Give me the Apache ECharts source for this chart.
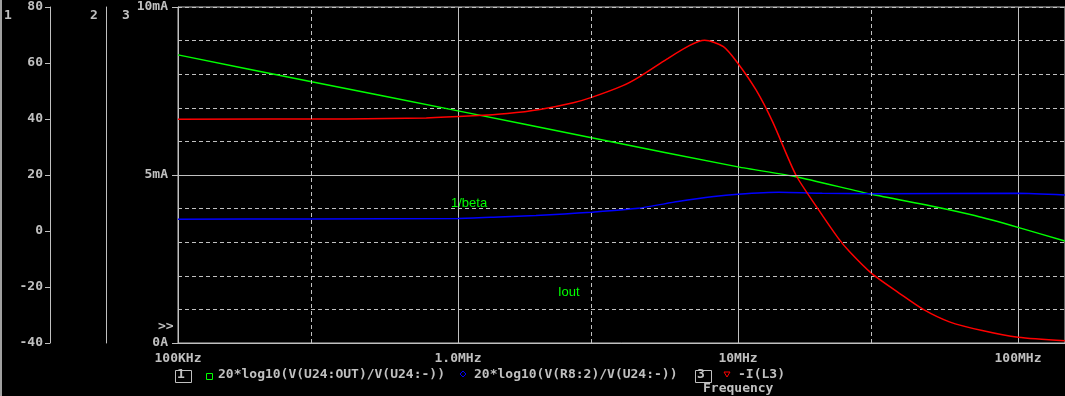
<!DOCTYPE html>
<html><head><meta charset="utf-8">
<script src="https://cdn.jsdelivr.net/npm/echarts@6/dist/echarts.min.js"></script>
<style>html,body{margin:0;padding:0;background:#000;}#c{width:1065px;height:396px;}</style>
</head><body><div id="c"></div>
<script>
// ---- data ----
const freqGreen = [1e5, 3e5, 1e6, 3e6, 1e7, 1.61e7, 3e7, 4.85e7, 7e7, 1e8, 1.47e8];
const dbGreen   = [62.9, 53.3, 42.9, 33.3, 22.9, 19.4, 13.1, 9.0, 5.5, 1.3, -3.6];

const freqBlue = [1e5, 3e5, 1e6, 1.4e6, 1.9e6, 2.4e6, 3e6, 4.4e6, 6.1e6, 8.2e6, 1e7, 1.4e7, 2e7, 3e7, 1e8, 1.47e8];
const dbBlue   = [4.2, 4.3, 4.5, 5.0, 5.5, 6.1, 6.7, 8.1, 10.5, 12.3, 13.1, 13.8, 13.5, 13.3, 13.5, 12.9];

const freqRed = [1e5, 4e5, 7.7e5, 1.13e6, 1.5e6, 1.96e6, 2.58e6, 3e6, 3.88e6, 4.46e6, 5.57e6, 6.7e6, 7.6e6, 8.87e6, 1e7, 1.16e7, 1.33e7, 1.61e7, 1.92e7, 2.28e7, 2.5e7, 3e7, 3.77e7, 4.59e7, 5.69e7, 7.45e7, 1e8, 1.47e8];
const mARed   = [6.66, 6.67, 6.70, 6.76, 6.83, 6.95, 7.15, 7.31, 7.66, 7.93, 8.45, 8.85, 9.01, 8.82, 8.32, 7.53, 6.58, 5.0, 4.02, 3.12, 2.72, 2.07, 1.48, 1.0, 0.63, 0.37, 0.17, 0.07];

const xTickLabels = {1e5: '100KHz', 1e6: '1.0MHz', 1e7: '10MHz', 1e8: '100MHz'};
const dbTicks = [-40, -20, 0, 20, 40, 60, 80];
const mATickLabels = {0: '0A', 5: '5mA', 10: '10mA'};
const dashedFreqs = [3e5, 3e6, 3e7];
const legendNames = ['20*log10(V(U24:OUT)/V(U24:-))', '20*log10(V(R8:2)/V(U24:-))', '-I(L3)'];
const traceLabels = ['1/beta', 'Iout'];

const zip = (a, b) => a.map((v, i) => [v, b[i]]);
const GREY = '#c0c0c0';
const MONO = {fontFamily: 'DejaVu Sans Mono', fontSize: 13, fontWeight: 'bold', color: GREY};

const chart = echarts.init(document.getElementById('c'), null, {renderer: 'canvas'});
const option = {
  backgroundColor: '#000',
  animation: false,
  grid: {left: 178, top: 7, right: 0, bottom: 53, show: true, borderColor: GREY, borderWidth: 1, backgroundColor: 'transparent'},
  xAxis: {
    type: 'log', logBase: 10, min: 1e5, max: 1.472e8,
    axisLine: {show: true, onZero: false, lineStyle: {color: GREY}},
    axisTick: {show: true, inside: true, length: 3, lineStyle: {color: GREY}},
    axisLabel: Object.assign({margin: 9, showMaxLabel: false, formatter: v => xTickLabels[Math.round(v)] || ''}, MONO),
    splitLine: {show: true, lineStyle: {color: GREY, width: 1, type: 'solid'}}
  },
  yAxis: [
    { type: 'value', position: 'left', offset: 128, min: -40, max: 80, interval: 20,
      axisLine: {show: true, onZero: false, lineStyle: {color: GREY}},
      axisTick: {show: true, length: 5, lineStyle: {color: GREY}},
      axisLabel: Object.assign({margin: 7, formatter: v => dbTicks.includes(v) ? String(v) : ''}, MONO),
      splitLine: {show: false} },
    { type: 'value', position: 'left', offset: 71.5, min: -40, max: 80,
      axisLine: {show: true, onZero: false, lineStyle: {color: GREY}},
      axisTick: {show: false}, axisLabel: {show: false}, splitLine: {show: false} },
    { type: 'value', position: 'left', offset: 0, min: 0, max: 10, interval: 5,
      axisLine: {show: true, onZero: false, lineStyle: {color: GREY}},
      axisTick: {show: true, length: 6, lineStyle: {color: GREY}},
      axisLabel: Object.assign({margin: 10, formatter: v => mATickLabels[v] || ''}, MONO),
      splitLine: {show: false} },
    { type: 'value', position: 'left', offset: 0, min: 0, max: 10, interval: 1,
      axisLine: {show: false, onZero: false},
      axisTick: {show: true, inside: true, length: 3, lineStyle: {color: GREY}},
      axisLabel: {show: false},
      splitLine: {show: true, lineStyle: {color: GREY, type: [4, 3], width: 1}} }
  ],
  series: [
    { type: 'line', name: 'grid', xAxisIndex: 0, yAxisIndex: 3, data: [], z: 1, silent: true,
      markLine: { silent: true, symbol: 'none', label: {show: false},
        lineStyle: {color: GREY, type: [4, 3], width: 1},
        data: dashedFreqs.map(f => ({xAxis: f})).concat([{yAxis: 5, lineStyle: {type: 'solid', color: GREY}}]) } },
    { type: 'line', name: legendNames[0], yAxisIndex: 0, data: zip(freqGreen, dbGreen), showSymbol: false, smooth: 0.2,
      lineStyle: {color: '#00ff00', width: 1.5}, itemStyle: {color: '#00ff00'}, z: 3 },
    { type: 'line', name: legendNames[1], yAxisIndex: 1, data: zip(freqBlue, dbBlue), showSymbol: false, smooth: 0.2,
      lineStyle: {color: '#0000ff', width: 1.5}, itemStyle: {color: '#0000ff'}, z: 3 },
    { type: 'line', name: legendNames[2], yAxisIndex: 2, data: zip(freqRed, mARed), showSymbol: false, smooth: 0.25,
      lineStyle: {color: '#ff0000', width: 1.5}, itemStyle: {color: '#ff0000'}, z: 4 }
  ],
  graphic: [
    {type: 'rect', left: 0, top: 0, shape: {width: 2, height: 396}, style: {fill: '#a0a0a0'}},
    {type: 'text', left: 4, top: 9, style: Object.assign({text: '1'}, MONO, {fill: GREY})},
    {type: 'text', left: 90, top: 9, style: Object.assign({text: '2'}, MONO, {fill: GREY})},
    {type: 'text', left: 122, top: 9, style: Object.assign({text: '3'}, MONO, {fill: GREY})},
    {type: 'text', left: 158, top: 320, style: Object.assign({text: '>>'}, MONO, {fill: GREY})},
    {type: 'text', left: 451, top: 197, style: {text: traceLabels[0], fill: '#00ff00', fontFamily: 'Liberation Sans', fontSize: 13}},
    {type: 'text', left: 558, top: 286, style: {text: traceLabels[1], fill: '#00ff00', fontFamily: 'Liberation Sans', fontSize: 13}},
    // legend row
    {type: 'rect', left: 173, top: 368, shape: {width: 16, height: 12}, style: {fill: 'none', stroke: GREY, lineWidth: 1}},
    {type: 'text', left: 177, top: 368, style: Object.assign({text: '1'}, MONO, {fill: GREY})},
    {type: 'rect', left: 204, top: 371, shape: {width: 6, height: 6}, style: {fill: 'none', stroke: '#00ff00', lineWidth: 1}},
    {type: 'text', left: 218, top: 368, style: Object.assign({text: legendNames[0]}, MONO, {fill: GREY})},
    {type: 'polygon', shape: {points: [[463, 371], [466, 374], [463, 377], [460, 374]]}, style: {fill: 'none', stroke: '#0000ff', lineWidth: 1}},
    {type: 'text', left: 474, top: 368, style: Object.assign({text: legendNames[1]}, MONO, {fill: GREY})},
    {type: 'rect', left: 693, top: 368, shape: {width: 16, height: 12}, style: {fill: 'none', stroke: GREY, lineWidth: 1}},
    {type: 'text', left: 697, top: 368, style: Object.assign({text: '3'}, MONO, {fill: GREY})},
    {type: 'polygon', shape: {points: [[724, 372], [730, 372], [727, 377]]}, style: {fill: 'none', stroke: '#ff0000', lineWidth: 1}},
    {type: 'text', left: 738, top: 368, style: Object.assign({text: legendNames[2]}, MONO, {fill: GREY})},
    {type: 'text', left: 703, top: 382, style: Object.assign({text: 'Frequency'}, MONO, {fill: GREY})}
  ]
};
chart.setOption(option);
</script></body></html>
